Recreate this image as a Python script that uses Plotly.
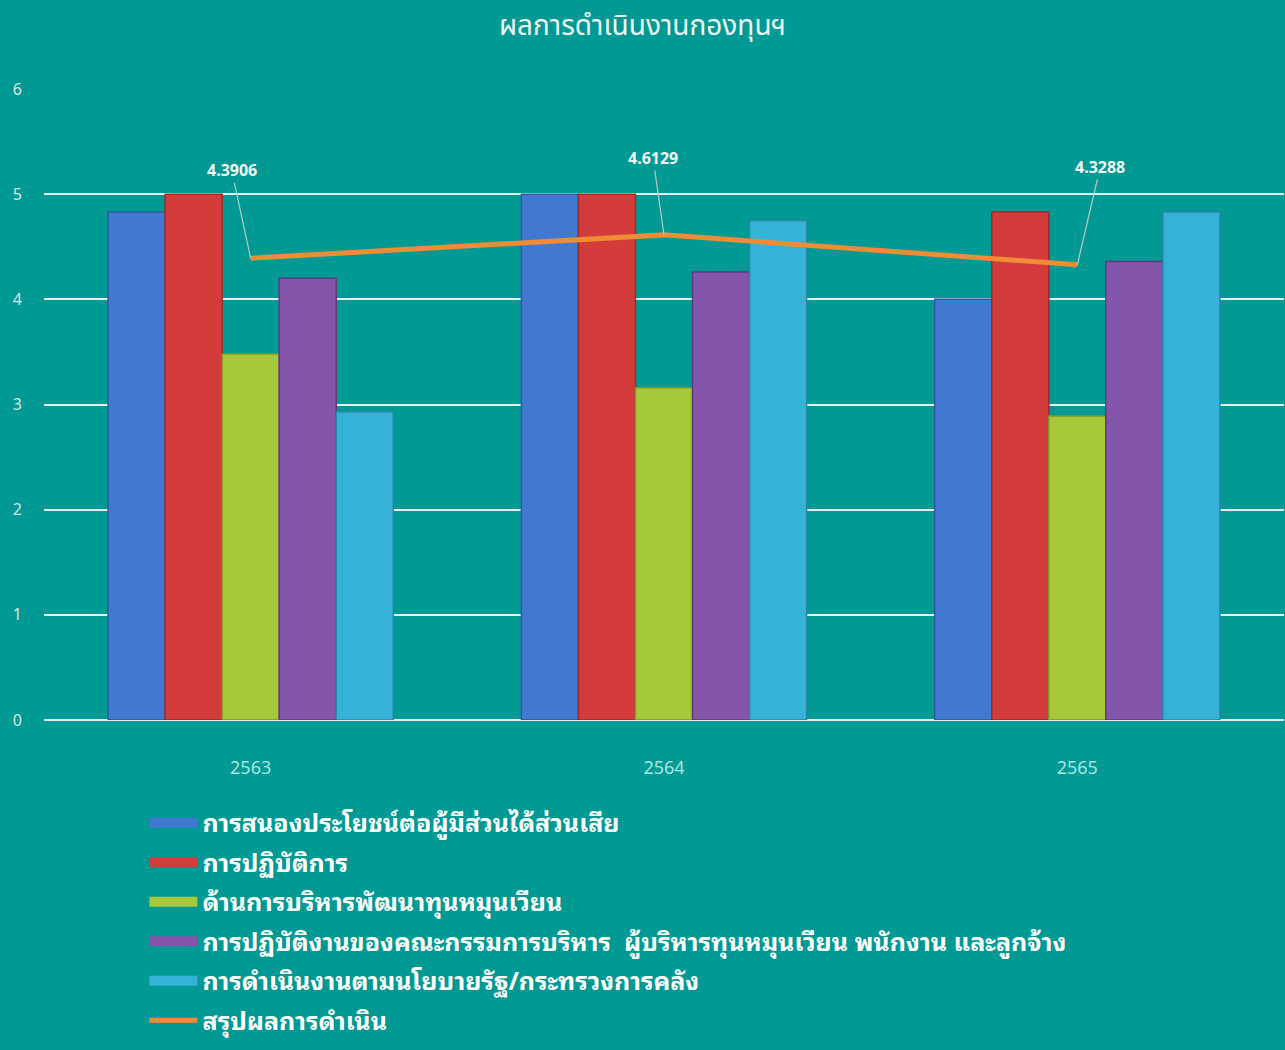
import plotly.graph_objects as go

years = ["2563", "2564", "2565"]
series_names = [
    "การสนองประโยชน์ต่อผู้มีส่วนได้ส่วนเสีย",
    "การปฏิบัติการ",
    "ด้านการบริหารพัฒนาทุนหมุนเวียน",
    "การปฏิบัติงานของคณะกรรมการบริหาร  ผู้บริหารทุนหมุนเวียน พนักงาน และลูกจ้าง",
    "การดำเนินงานตามนโยบายรัฐ/กระทรวงการคลัง",
]
stakeholder = [4.83, 5.0, 4.0]
operations = [5.0, 5.0, 4.83]
fund_mgmt = [3.48, 3.16, 2.89]
board = [4.20, 4.26, 4.36]
policy = [2.93, 4.75, 4.83]
summary_name = "สรุปผลการดำเนิน"
summary = [4.3906, 4.6129, 4.3288]
summary_labels = ["4.3906", "4.6129", "4.3288"]
title_text = "ผลการดำเนินงานกองทุนฯ"

bar_values = [stakeholder, operations, fund_mgmt, board, policy]
bar_colors = ["#4279D0", "#D33C3A", "#A6C93C", "#8455AA", "#36B2D8"]
bar_lines = ["#2E5AA0", "#9E2A28", "#7E9A2A", "#5E3B80", "#2A86A6"]

FONT = "Noto Sans Thai Looped, Tahoma, Noto Sans Thai, Noto Sans, sans-serif"
TITLE_FONT = "Noto Sans Thai, Noto Sans, sans-serif"
BG = "#009993"

fig = go.Figure()
for i, (name, vals) in enumerate(zip(series_names, bar_values)):
    fig.add_trace(go.Bar(
        x=years, y=vals, name=name, showlegend=False,
        marker=dict(color=bar_colors[i], line=dict(color=bar_lines[i], width=1.5)),
        legendgroup=f"g{i}",
    ))
# legend swatches (wide rectangles like the reference)
for i, name in enumerate(series_names):
    fig.add_trace(go.Scatter(
        x=[None], y=[None], name=name, mode="lines",
        line=dict(color=bar_colors[i], width=16), legendgroup=f"g{i}",
    ))
fig.add_trace(go.Scatter(
    x=years, y=summary, name=summary_name, mode="lines",
    line=dict(color="#F08C36", width=5), legendgroup="g5",
))

offsets = [(-19, -88), (-11, -77), (23, -98)]
for idx, (v, lab, (ax, ay)) in enumerate(zip(summary, summary_labels, offsets)):
    fig.add_annotation(
        x=idx, y=v, text=f"<b>{lab}</b>", showarrow=True, arrowhead=0,
        arrowwidth=1.2, arrowcolor="#B8C8C8", ax=ax, ay=ay, standoff=0,
        font=dict(family="Noto Sans, sans-serif", size=16, color="#F4F8F8"),
    )

fig.update_layout(
    width=1285, height=1050,
    paper_bgcolor=BG, plot_bgcolor=BG,
    margin=dict(l=44, r=1, t=89, b=330, autoexpand=False),
    title=dict(text=title_text, x=0.5, xanchor="center", y=0.976, yanchor="middle",
               font=dict(family=TITLE_FONT, size=28, color="#EEF6F6")),
    barmode="group", bargap=0.31, bargroupgap=0,
    showlegend=True,
    legend=dict(
        orientation="v", x=0.081, xanchor="left", y=-0.1267, yanchor="top",
        font=dict(family=FONT, size=25, color="#FFFFFF", weight="bold"),
        traceorder="grouped", tracegroupgap=4, itemwidth=48,
        bgcolor="rgba(0,0,0,0)",
    ),
    xaxis=dict(type="category", range=[-0.5, 2.5], showgrid=False, showline=False, ticks="",
               tickfont=dict(family="Noto Sans, sans-serif", size=18, color="#A8E6E0"),
               ticklabelstandoff=35),
    yaxis=dict(range=[0, 6], dtick=1, showgrid=True, gridcolor="#E6F0F0", gridwidth=2,
               zeroline=True, zerolinecolor="#E6F0F0", zerolinewidth=2,
               tickfont=dict(family="Noto Sans, sans-serif", size=16, color="#D8E8E8"),
               ticklabelstandoff=21),
)

fig.write_html("out.html", config={"displayModeBar": False},
               post_script="document.body.style.margin='0';")
